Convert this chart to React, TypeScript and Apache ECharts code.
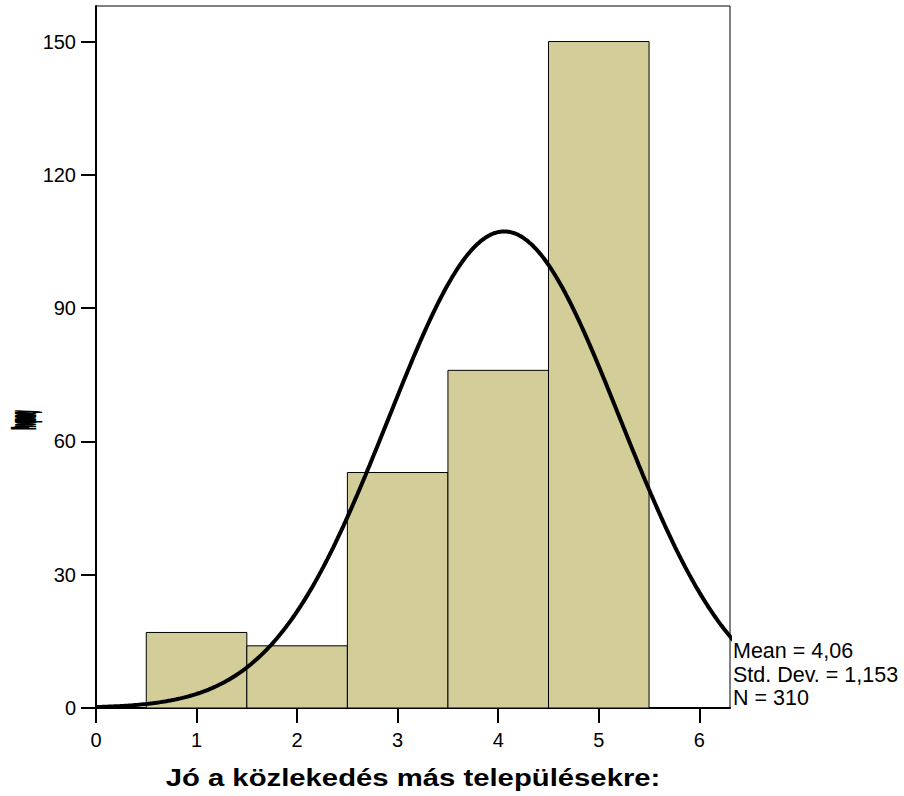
import React, { useEffect, useRef } from "react";
import * as echarts from "echarts";

const binStarts = [0.5, 1.5, 2.5, 3.5, 4.5];
const binEnds = [1.5, 2.5, 3.5, 4.5, 5.5];
const counts = [17, 14, 53, 76, 150];
const xTicks = [0, 1, 2, 3, 4, 5, 6];
const yTicks = [0, 30, 60, 90, 120, 150];
const mean = 4.06;
const stdDev = 1.153;
const nTotal = 310;
const statLines = ["Mean = 4,06", "Std. Dev. = 1,153", "N = 310"];
const xTitle = "Jó a közlekedés más településekre:";
const yTitle = "Frequency";

const FONT = "'Liberation Sans', Arial, sans-serif";

export default function App() {
  const ref = useRef<HTMLDivElement>(null);
  useEffect(() => {
    if (!ref.current) return;
    const chart = echarts.init(ref.current, undefined, { renderer: "svg" });
    const xMax = 6.305;
    const curve: number[][] = [];
    for (let i = 0; i <= 320; i++) {
      const x = (i / 320) * 6.4;
      const z = (x - mean) / stdDev;
      curve.push([x, (nTotal / (stdDev * Math.sqrt(2 * Math.PI))) * Math.exp(-0.5 * z * z)]);
    }
    const bars = binStarts.map((s, i) => [s, binEnds[i], counts[i]]);
    chart.setOption({
      animation: false,
      backgroundColor: "#fff",
      grid: {
        left: 96,
        right: 174,
        top: 6,
        bottom: 88,
        show: true,
        borderColor: "#000",
        borderWidth: 1,
        backgroundColor: "transparent",
      },
      xAxis: {
        type: "value",
        min: 0,
        max: xMax,
        interval: 1,
        splitLine: { show: false },
        axisLine: { show: true, onZero: false, lineStyle: { color: "#000", width: 2 } },
        axisTick: { show: true, length: 15, lineStyle: { color: "#000", width: 2 }, customValues: xTicks },
        axisLabel: { color: "#000", fontSize: 20, fontFamily: FONT, margin: 22, customValues: xTicks },
      },
      yAxis: {
        type: "value",
        min: 0,
        max: 158,
        interval: 30,
        splitLine: { show: false },
        axisLine: { show: true, onZero: false, lineStyle: { color: "#000", width: 2 } },
        axisTick: { show: true, length: 15, lineStyle: { color: "#000", width: 2 }, customValues: yTicks },
        axisLabel: { color: "#000", fontSize: 20, fontFamily: FONT, margin: 20, customValues: yTicks },
      },
      series: [
        {
          type: "custom",
          data: bars,
          z: 2,
          renderItem: (params: any, api: any) => {
            const p0 = api.coord([api.value(0), api.value(2)]);
            const p1 = api.coord([api.value(1), 0]);
            return {
              type: "rect",
              shape: { x: p0[0], y: p0[1], width: p1[0] - p0[0], height: p1[1] - p0[1] },
              style: { fill: "#d3ce99", stroke: "#000", lineWidth: 1 },
            };
          },
        },
        {
          type: "line",
          data: curve,
          z: 3,
          symbol: "none",
          clip: true,
          lineStyle: { color: "#000", width: 4 },
        },
      ],
      graphic: [
        {
          type: "text",
          x: 413,
          y: 778,
          scaleX: 1.22,
          scaleY: 1,
          style: {
            text: xTitle,
            font: `bold 24px ${FONT}`,
            fill: "#000",
            textAlign: "center",
            textVerticalAlign: "middle",
          },
        },
        {
          type: "text",
          x: 23,
          y: 420,
          rotation: Math.PI / 2,
          scaleX: 0.14,
          scaleY: 1.05,
          style: {
            text: yTitle,
            font: `bold 26px ${FONT}`,
            fill: "#000",
            stroke: "#000",
            lineWidth: 6,
            textAlign: "center",
            textVerticalAlign: "middle",
          },
        },
        ...statLines.map((t, i) => ({
          type: "text",
          x: 733,
          y: 651 + i * 23.5,
          style: {
            text: t,
            font: `21.5px ${FONT}`,
            fill: "#000",
            textAlign: "left",
            textVerticalAlign: "middle",
          },
        })),
      ],
    });
    return () => chart.dispose();
  }, []);
  return <div ref={ref} style={{ width: 904, height: 796, position: "absolute", left: 0, top: 0 }} />;
}
